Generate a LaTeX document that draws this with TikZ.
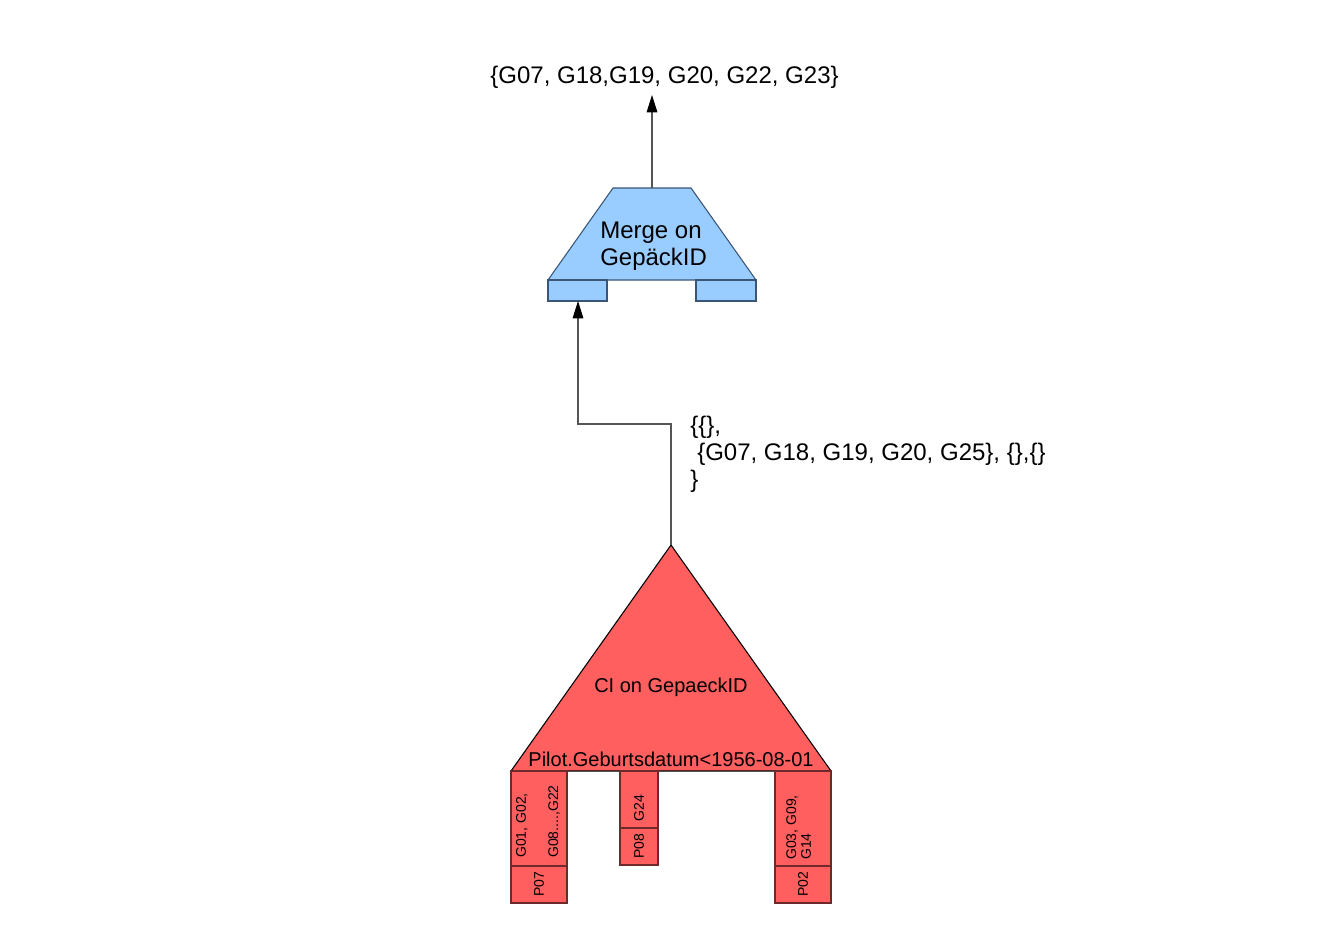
\documentclass[tikz,border=0pt]{standalone}
\usepackage{fontspec}
\setmainfont{Liberation Sans}
\usetikzlibrary{arrows.meta}
\definecolor{redfill}{HTML}{FF5F5F}
\definecolor{redline}{HTML}{6E2A2A}
\definecolor{bluefill}{HTML}{99CCFF}
\definecolor{blueline}{HTML}{3A5575}
\definecolor{conn}{HTML}{555555}
\tikzset{
  redbox/.style={draw=redline, fill=redfill, line width=0.8pt},
  bluebox/.style={draw=blueline, fill=bluefill, line width=0.8pt},
  conline/.style={draw=conn, line width=0.8pt, -{Triangle[length=13pt,width=8pt,color=black,fill=black]}},
  bigtxt/.style={font=\fontsize{18}{20.25}\selectfont, inner sep=0pt},
  midtxt/.style={font=\fontsize{15}{18}\selectfont, inner sep=0pt},
  smalltxt/.style={font=\fontsize{10.5}{12}\selectfont, inner sep=0pt, rotate=90},
}
\begin{document}
\begin{tikzpicture}[x=0.75pt,y=-0.75pt]
\useasboundingbox (0,0) rectangle (1334,945);
% Merge operator
\path[bluebox] (613,188) -- (691,188) -- (756,280) -- (548,280) -- cycle;
\path[bluebox] (548,280) rectangle (607,301);
\path[bluebox] (696,280) rectangle (756,301);
\coordinate (mtop) at (652,188);
\coordinate (mleft) at (578,301);
\node[bigtxt, anchor=west] (mt1) at (600,232.5) {Merge on};
\node[bigtxt, anchor=west] (mt2) at (600,259.5) {GepäckID};
% result text
\node[bigtxt] (res) at (664.5,77) {\{G07, G18,G19, G20, G22, G23\}};
% triangle
\path[draw=black, fill=redfill, line width=0.8pt] (671,545) -- (831,771) -- (511,771) -- cycle;
\coordinate (apex) at (671,545);
\node[midtxt] (ci) at (671,687) {CI on GepaeckID};
\node[midtxt] (pil) at (671,759) {Pilot.Geburtsdatum<1956-08-01};
% leaf boxes
\path[redbox] (511,771) rectangle (567,866);
\path[redbox] (511,866) rectangle (567,903);
\path[redbox] (620,771) rectangle (658,828);
\path[redbox] (620,828) rectangle (658,865);
\path[redbox] (775,771) rectangle (831,866);
\path[redbox] (775,866) rectangle (831,903);
\node[smalltxt, anchor=west] (l1) at (522,858) {G01, G02,};
\node[smalltxt, anchor=west] (l2) at (554,858) {G08....,G22};
\node[smalltxt] (l3) at (539,884.5) {P07};
\node[smalltxt] (m1) at (639,808) {G24};
\node[smalltxt] (m2) at (639,846.5) {P08};
\node[smalltxt, anchor=west] (r1) at (792,860) {G03, G09,};
\node[smalltxt, anchor=west] (r2) at (806,860) {G14};
\node[smalltxt] (r3) at (803,884.5) {P02};
% intermediate label
\node[bigtxt, anchor=west] (lab1) at (690,427) {\{\{\},};
\node[bigtxt, anchor=west] (lab2) at (697,454) {\{G07, G18, G19, G20, G25\}, \{\},\{\}};
\node[bigtxt, anchor=west] (lab3) at (690,481) {\}};
% connectors
\draw[conline] (mtop) -- (652,95);
\draw[conline] (apex) -- (671,424) -- (578,424) -- (mleft);
\end{tikzpicture}
\end{document}
